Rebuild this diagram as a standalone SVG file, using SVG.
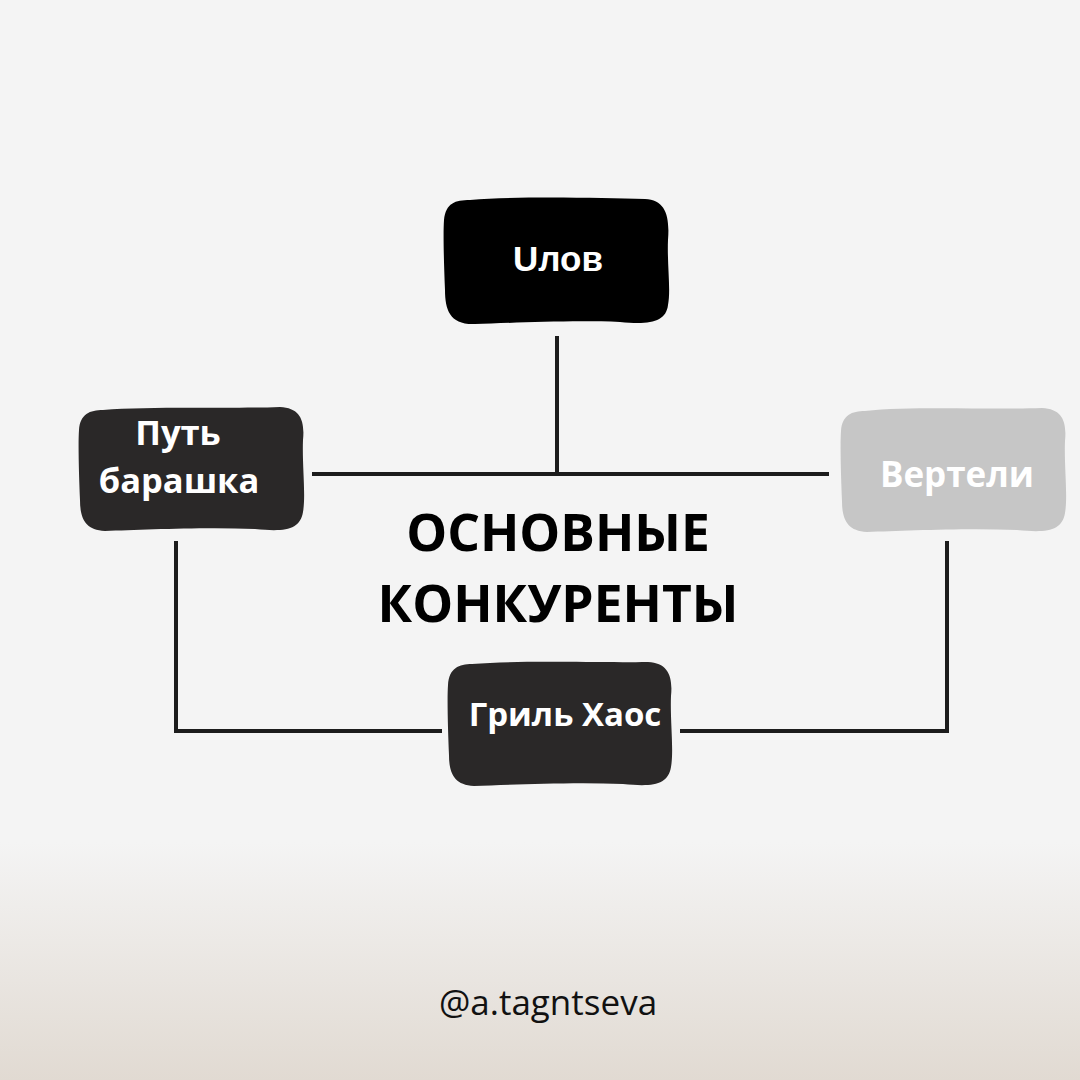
<svg xmlns="http://www.w3.org/2000/svg" width="1080" height="1080" viewBox="0 0 1080 1080">
<defs>
<linearGradient id="bg" x1="0" y1="0" x2="0" y2="1">
<stop offset="0" stop-color="#f4f4f4"/>
<stop offset="0.78" stop-color="#f4f4f4"/>
<stop offset="1" stop-color="#e1dad2"/>
</linearGradient>
</defs>
<style>
.lbl{font-family:"Open Sans","DejaVu Sans",sans-serif;font-weight:700;fill:#ffffff;text-anchor:middle}
.conn{fill:none;stroke:#1c1c1c;stroke-width:4;stroke-linecap:square;stroke-linejoin:miter}
.dark{fill:#2a2828}
</style>
<rect width="1080" height="1080" fill="url(#bg)"/>
<g id="connectors">
<path class="conn" d="M557,338 V474"/>
<path class="conn" d="M314,474 H827"/>
<path class="conn" d="M176,543 V731 H440"/>
<path class="conn" d="M682,731 H947 V543"/>
</g>
<g id="node-ulov">
<path fill="#000" d="M470,200 C520,196 600,198 645,199 C665,200 670,215 668,240 C667,265 671,290 668,305 C666,322 650,325 620,322 C570,320 510,323 475,324 C450,325 445,310 445,290 C444,265 443,235 444,220 C446,203 455,200 470,200 Z"/>
<text x="558" y="271" font-family="'Liberation Sans',Arial,sans-serif" font-weight="700" font-size="35" fill="#fff" text-anchor="middle">Uлов</text>
</g>
<g id="node-put">
<path class="dark" d="M103,410 C150,406 230,409 280,407 C300,408 305,420 303,440 C302,465 306,495 303,512 C300,530 285,532 255,529 C200,527 140,530 105,531 C85,530 80,518 80,500 C79,475 78,445 79,430 C80,414 90,410 103,410 Z"/>
<text class="lbl" x="178" y="445" font-size="34.5">Путь</text>
<text class="lbl" x="179" y="493" font-size="34.5">барашка</text>
</g>
<g id="node-verteli">
<path fill="#c6c6c6" d="M865,411 C912,406 992,410 1042,408 C1062,409 1067,421 1065,441 C1064,466 1068,496 1065,513 C1062,531 1047,533 1017,530 C962,528 902,531 867,532 C847,531 842,519 842,501 C841,476 840,446 841,431 C842,415 852,411 865,411 Z"/>
<text class="lbl" x="957" y="487" font-size="35">Вертели</text>
</g>
<g id="node-gril">
<path class="dark" d="M472,664 C520,660 600,663 648,662 C668,663 673,676 671,696 C670,721 674,750 671,767 C668,785 653,787 623,784 C568,782 510,785 474,786 C454,785 449,773 449,755 C448,730 447,700 448,685 C449,668 459,664 472,664 Z"/>
<text class="lbl" x="565" y="726" font-size="33">Гриль Хаос</text>
</g>
<g id="title">
<text x="558" y="551" font-family="'Open Sans','DejaVu Sans',sans-serif" font-weight="700" font-size="51.5" fill="#000" text-anchor="middle">ОСНОВНЫЕ</text>
<text x="558" y="622" font-family="'Open Sans','DejaVu Sans',sans-serif" font-weight="700" font-size="51.5" fill="#000" text-anchor="middle">КОНКУРЕНТЫ</text>
</g>
<text id="handle" x="548" y="1015" font-family="'Open Sans','DejaVu Sans',sans-serif" font-size="35" fill="#111" text-anchor="middle">@a.tagntseva</text>
</svg>
